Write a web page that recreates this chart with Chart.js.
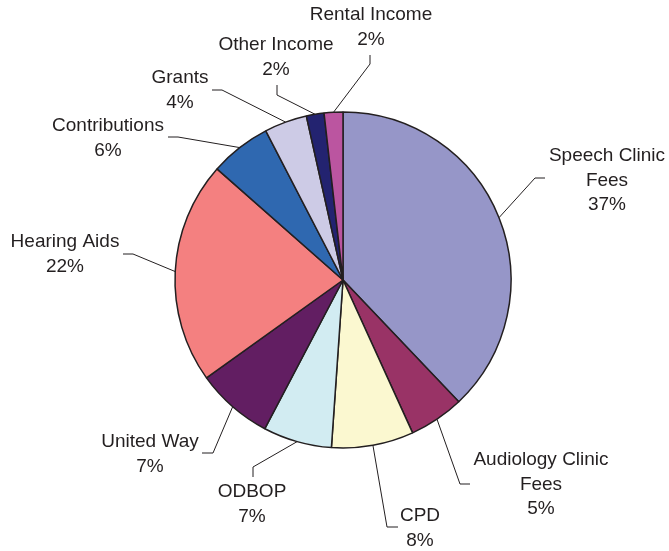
<!DOCTYPE html>
<html>
<head>
<meta charset="utf-8">
<script src="https://cdn.jsdelivr.net/npm/chart.js@4/dist/chart.umd.min.js"></script>
<style>
  html, body { margin: 0; padding: 0; background: #fff; }
  #wrap { width: 669px; height: 551px; position: relative; }
</style>
</head>
<body>
<div id="wrap"><canvas id="myChart" width="669" height="551"></canvas></div>
<script>
// categories and shares of income, clockwise from 12 o'clock
var categorias = ["Speech Clinic Fees", "Audiology Clinic Fees", "CPD", "ODBOP", "United Way",
                  "Hearing Aids", "Contributions", "Grants", "Other Income", "Rental Income"];
var rotulos = [["Speech Clinic", "Fees"], ["Audiology Clinic", "Fees"], ["CPD"], ["ODBOP"], ["United Way"],
               ["Hearing Aids"], ["Contributions"], ["Grants"], ["Other Income"], ["Rental Income"]];
// slice sizes
var valores = [37.9, 5.3, 7.9, 6.6, 7.4, 21.4, 5.9, 4.1, 1.7, 1.8];
// percentages as printed on the labels
var percentuais = ["37%", "5%", "8%", "7%", "7%", "22%", "6%", "4%", "2%", "2%"];
var cores = ["#9696c8", "#993366", "#fbf8d0", "#d2ecf2", "#621e62",
             "#f48080", "#2f68b0", "#cdcbe6", "#232370", "#bb55a0"];

// leader line layout: elbow point, end point, text centre x, first line y (middle)
var layoutRotulos = [
    { elbow: [535, 178], end: [545, 178], tx: 607, ty: 156 },
    { elbow: [460, 484], end: [470, 484], tx: 541, ty: 460 },
    { elbow: [387, 527], end: [398, 527], tx: 420, ty: 516 },
    { elbow: [253, 467], end: [253, 477], tx: 252, ty: 492 },
    { elbow: [213, 453], end: [202, 453], tx: 150, ty: 442 },
    { elbow: [133, 254], end: [123, 254], tx: 65,  ty: 242 },
    { elbow: [178, 137], end: [168, 137], tx: 108, ty: 126 },
    { elbow: [222, 90],  end: [212, 90],  tx: 180, ty: 78 },
    { elbow: [277, 95],  end: [277, 85],  tx: 276, ty: 45 },
    { elbow: [370, 64],  end: [370, 55],  tx: 371, ty: 15 }
];

var pluginRotulos = {
    id: "rotulos",
    afterDraw: function (chart) {
        var ctx = chart.ctx;
        var arcs = chart.getDatasetMeta(0).data;
        ctx.save();
        ctx.strokeStyle = "#231f20";
        ctx.lineWidth = 1;
        ctx.fillStyle = "#231f20";
        ctx.font = "19px 'Liberation Sans', Arial, sans-serif";
        ctx.textAlign = "center";
        ctx.textBaseline = "middle";
        arcs.forEach(function (arc, i) {
            var p = arc.getProps(["x", "y", "startAngle", "endAngle", "outerRadius"], true);
            var meio = (p.startAngle + p.endAngle) / 2;
            var sx = p.x + Math.cos(meio) * p.outerRadius;
            var sy = p.y + Math.sin(meio) * p.outerRadius;
            var L = layoutRotulos[i];
            ctx.beginPath();
            ctx.moveTo(sx, sy);
            ctx.lineTo(L.elbow[0], L.elbow[1]);
            ctx.lineTo(L.end[0], L.end[1]);
            ctx.stroke();
            var linhas = rotulos[i].concat([percentuais[i]]);
            linhas.forEach(function (t, k) {
                ctx.fillText(t, L.tx, L.ty + k * 24.5);
            });
        });
        ctx.restore();
    }
};

var ctx = document.getElementById("myChart").getContext("2d");
var grafico = new Chart(ctx, {
    type: "pie",
    data: {
        labels: categorias,
        datasets: [{
            data: valores,
            backgroundColor: cores,
            borderColor: "#231f20",
            borderWidth: 1.5
        }]
    },
    options: {
        responsive: false,
        animation: false,
        layout: { padding: { left: 174.25, right: 157.25, top: 111.25, bottom: 102.25 } },
        plugins: {
            legend: { display: false },
            tooltip: { enabled: false }
        }
    },
    plugins: [pluginRotulos]
});
</script>
</body>
</html>
